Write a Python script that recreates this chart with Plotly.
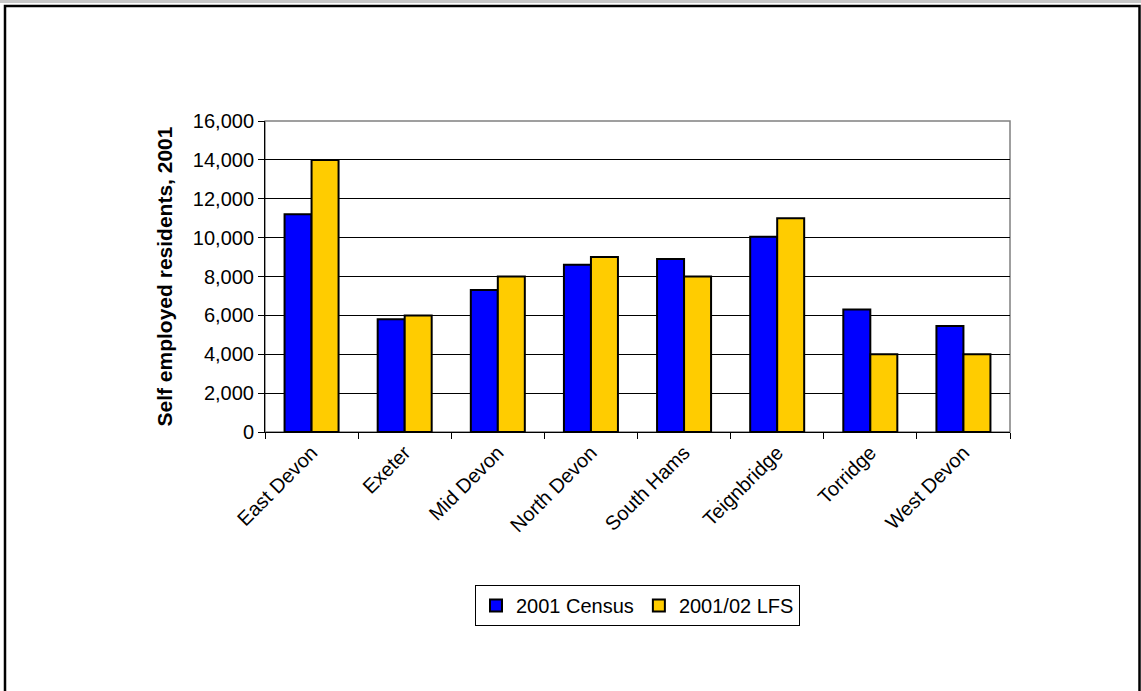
import plotly.graph_objects as go

categories = ["East Devon", "Exeter", "Mid Devon", "North Devon", "South Hams",
              "Teignbridge", "Torridge", "West Devon"]
census_2001 = [11200, 5800, 7300, 8600, 8900, 10050, 6300, 5450]
lfs_2001_02 = [14000, 6000, 8000, 9000, 8000, 11000, 4000, 4000]
y_ticks = [0, 2000, 4000, 6000, 8000, 10000, 12000, 14000, 16000]

W, H = 1141, 691
L, R, T, B = 265, 1010, 121, 432
pw, ph = R - L, B - T

def px(x):
    return (x - L) / pw

def py(y):
    return (B - y) / ph

font = "Arial, 'Liberation Sans', sans-serif"

fig = go.Figure()
fig.add_trace(go.Bar(x=categories, y=census_2001, name="2001 Census",
                     marker=dict(color="#0000FF", line=dict(color="black", width=2))))
fig.add_trace(go.Bar(x=categories, y=lfs_2001_02, name="2001/02 LFS",
                     marker=dict(color="#FFCC00", line=dict(color="black", width=2))))

fig.update_layout(
    width=W, height=H,
    margin=dict(l=L, r=W - R, t=T, b=H - B, pad=0),
    paper_bgcolor="white", plot_bgcolor="white",
    font=dict(family=font, size=20, color="black"),
    barmode="group", bargap=0.42, bargroupgap=0,
    showlegend=True,
    legend=dict(orientation="h", x=0.5, xanchor="center", y=py(585), yanchor="top",
                bordercolor="black", borderwidth=1, bgcolor="white",
                font=dict(size=20), itemwidth=30, tracegroupgap=0),
    xaxis=dict(type="category", tickangle=-45, ticks="outside", ticklen=6,
               tickson="boundaries", tickcolor="black", showline=True,
               linecolor="black", linewidth=1, showgrid=False,
               tickfont=dict(size=20)),
    yaxis=dict(range=[0, 16000], tickvals=y_ticks, tickformat=",d",
               ticks="outside", ticklen=6, tickcolor="black", showline=True,
               linecolor="black", linewidth=1, gridcolor="black", gridwidth=1,
               zeroline=False, tickfont=dict(size=20),
               title=dict(text="<b>Self employed residents, 2001</b>",
                          font=dict(size=21), standoff=14)),
    shapes=[
        dict(type="rect", xref="paper", yref="paper", x0=0, x1=1, y0=0, y1=1,
             line=dict(color="#808080", width=1.5), layer="between"),
        dict(type="rect", xref="paper", yref="paper", x0=px(0), x1=px(W), y0=py(0), y1=py(3),
             line=dict(width=0), fillcolor="#c8c8c8", layer="above"),
        dict(type="rect", xref="paper", yref="paper", x0=px(5), x1=px(1139.5), y0=py(6), y1=py(700),
             line=dict(color="black", width=2.5), layer="above"),
    ],
)

fig.write_html("out.html")
